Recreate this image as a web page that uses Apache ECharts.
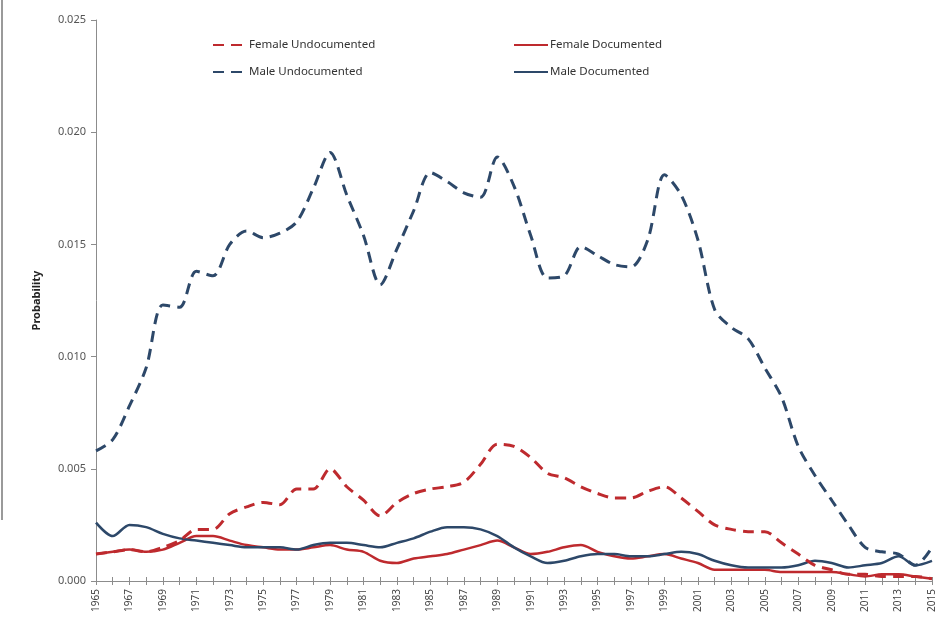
<!DOCTYPE html>
<html>
<head>
<meta charset="utf-8">
<script src="https://cdn.jsdelivr.net/npm/echarts@6/dist/echarts.min.js"></script>
<style>
html,body{margin:0;padding:0;background:#fff;}
#chart{width:951px;height:635px;}
</style>
</head>
<body>
<div id="chart"></div>
<script>
const years = [];
for (let y = 1965; y <= 2015; y++) years.push(String(y));

const maleUndocumented = [
  0.0058, 0.0063, 0.0078, 0.0095, 0.0123, 0.0122, 0.0138, 0.0136, 0.0150, 0.0156,
  0.0153, 0.0155, 0.0160, 0.0175, 0.0191, 0.0172, 0.0154, 0.0132, 0.0148, 0.0165,
  0.0182, 0.0178, 0.0173, 0.0171, 0.0189, 0.0176, 0.0154, 0.0135, 0.0136, 0.0149,
  0.0145, 0.0141, 0.0140, 0.0152, 0.0181, 0.0172, 0.0152, 0.0121, 0.0113, 0.0108,
  0.0095, 0.0082, 0.0060, 0.0047, 0.0036, 0.0025, 0.0015, 0.0013, 0.0012, 0.0007,
  0.0015
];
const femaleUndocumented = [
  0.0012, 0.0013, 0.0014, 0.0013, 0.0015, 0.0018, 0.0023, 0.0023, 0.0030, 0.0033,
  0.0035, 0.0034, 0.0041, 0.0041, 0.0050, 0.0042, 0.0036, 0.0029, 0.0035, 0.0039,
  0.0041, 0.0042, 0.0044, 0.0052, 0.0061, 0.0060, 0.0055, 0.0048, 0.0046, 0.0042,
  0.0039, 0.0037, 0.0037, 0.0040, 0.0042, 0.0037, 0.0031, 0.0025, 0.0023, 0.0022,
  0.0022, 0.0017, 0.0012, 0.0007, 0.0005, 0.0003, 0.0003, 0.0002, 0.0002, 0.0002,
  0.0001
];
const femaleDocumented = [
  0.0012, 0.0013, 0.0014, 0.0013, 0.0014, 0.0017, 0.0020, 0.0020, 0.0018, 0.0016,
  0.0015, 0.0014, 0.0014, 0.0015, 0.0016, 0.0014, 0.0013, 0.0009, 0.0008, 0.0010,
  0.0011, 0.0012, 0.0014, 0.0016, 0.0018, 0.0015, 0.0012, 0.0013, 0.0015, 0.0016,
  0.0013, 0.0011, 0.0010, 0.0011, 0.0012, 0.0010, 0.0008, 0.0005, 0.0005, 0.0005,
  0.0005, 0.0004, 0.0004, 0.0004, 0.0004, 0.0003, 0.0002, 0.0003, 0.0003, 0.0002,
  0.0001
];
const maleDocumented = [
  0.0026, 0.0020, 0.0025, 0.0024, 0.0021, 0.0019, 0.0018, 0.0017, 0.0016, 0.0015,
  0.0015, 0.0015, 0.0014, 0.0016, 0.0017, 0.0017, 0.0016, 0.0015, 0.0017, 0.0019,
  0.0022, 0.0024, 0.0024, 0.0023, 0.0020, 0.0015, 0.0011, 0.0008, 0.0009, 0.0011,
  0.0012, 0.0012, 0.0011, 0.0011, 0.0012, 0.0013, 0.0012, 0.0009, 0.0007, 0.0006,
  0.0006, 0.0006, 0.0007, 0.0009, 0.0008, 0.0006, 0.0007, 0.0008, 0.0011, 0.0007,
  0.0009
];
const yTicks = [0, 0.005, 0.010, 0.015, 0.020, 0.025];

const RED = '#BE2A2E';
const NAVY = '#2D4869';
const FONT = '"Noto Sans", "Open Sans", sans-serif';

const chart = echarts.init(document.getElementById('chart'), null, {renderer: 'canvas'});

function lg(name, left, top) {
  return {
    data: [name], left: left, top: top, orient: 'horizontal',
    itemWidth: 34, itemHeight: 12, itemGap: 0,
    padding: 0,
    itemStyle: {opacity: 0},
    textStyle: {fontFamily: FONT, fontSize: 11.5, color: '#333', padding: [0, 0, 0, -3]}
  };
}

const option = {
  backgroundColor: '#fff',
  animation: false,
  graphic: [
    {type: 'line', shape: {x1: 2, y1: 0, x2: 2, y2: 520}, style: {stroke: '#9a9a9a', lineWidth: 2}}
  ],
  legend: [
    lg('Female Undocumented', 212, 39),
    lg('Male Undocumented', 212, 66),
    lg('Female Documented', 513, 39),
    lg('Male Documented', 513, 66)
  ],
  grid: {left: 96, right: 19, top: 20, bottom: 54, containLabel: false},
  xAxis: [
    {
      type: 'category', data: years, boundaryGap: false,
      axisLine: {lineStyle: {color: '#8c8c8c', width: 1}},
      axisTick: {show: true, interval: 0, length: 4, lineStyle: {color: '#8c8c8c'}},
      axisLabel: {interval: 1, rotate: 90, fontFamily: FONT, fontSize: 10, color: '#444', margin: 8}
    },
    {
      type: 'category', data: years, boundaryGap: false, position: 'bottom',
      axisLine: {show: false},
      axisTick: {show: true, inside: true, interval: 0, length: 4, lineStyle: {color: '#8c8c8c'}},
      axisLabel: {show: false}
    }
  ],
  yAxis: {
    type: 'value', min: yTicks[0], max: yTicks[yTicks.length - 1], interval: 0.005,
    name: 'Probability', nameLocation: 'middle', nameGap: 54,
    nameTextStyle: {fontFamily: FONT, fontSize: 11, fontWeight: 'bold', color: '#222'},
    axisLine: {show: true, lineStyle: {color: '#8c8c8c'}},
    axisTick: {show: true, length: 5, lineStyle: {color: '#8c8c8c'}},
    splitLine: {show: false},
    axisLabel: {fontFamily: FONT, fontSize: 11, color: '#555', margin: 10,
      formatter: v => v.toFixed(3)}
  },
  series: [
    {name: 'Female Undocumented', type: 'line', data: femaleUndocumented, smooth: 0.3, symbol: 'none',
      lineStyle: {color: RED, width: 3, type: [11, 7]}, itemStyle: {color: RED}, z: 3},
    {name: 'Male Undocumented', type: 'line', data: maleUndocumented, smooth: 0.3, symbol: 'none',
      lineStyle: {color: NAVY, width: 3, type: [11, 7]}, itemStyle: {color: NAVY}, z: 3},
    {name: 'Female Documented', type: 'line', data: femaleDocumented, smooth: 0.3, symbol: 'none',
      lineStyle: {color: RED, width: 2.5}, itemStyle: {color: RED}, z: 2},
    {name: 'Male Documented', type: 'line', data: maleDocumented, smooth: 0.3, symbol: 'none',
      lineStyle: {color: NAVY, width: 2.5}, itemStyle: {color: NAVY}, z: 2}
  ]
};
chart.setOption(option);
</script>
</body>
</html>
